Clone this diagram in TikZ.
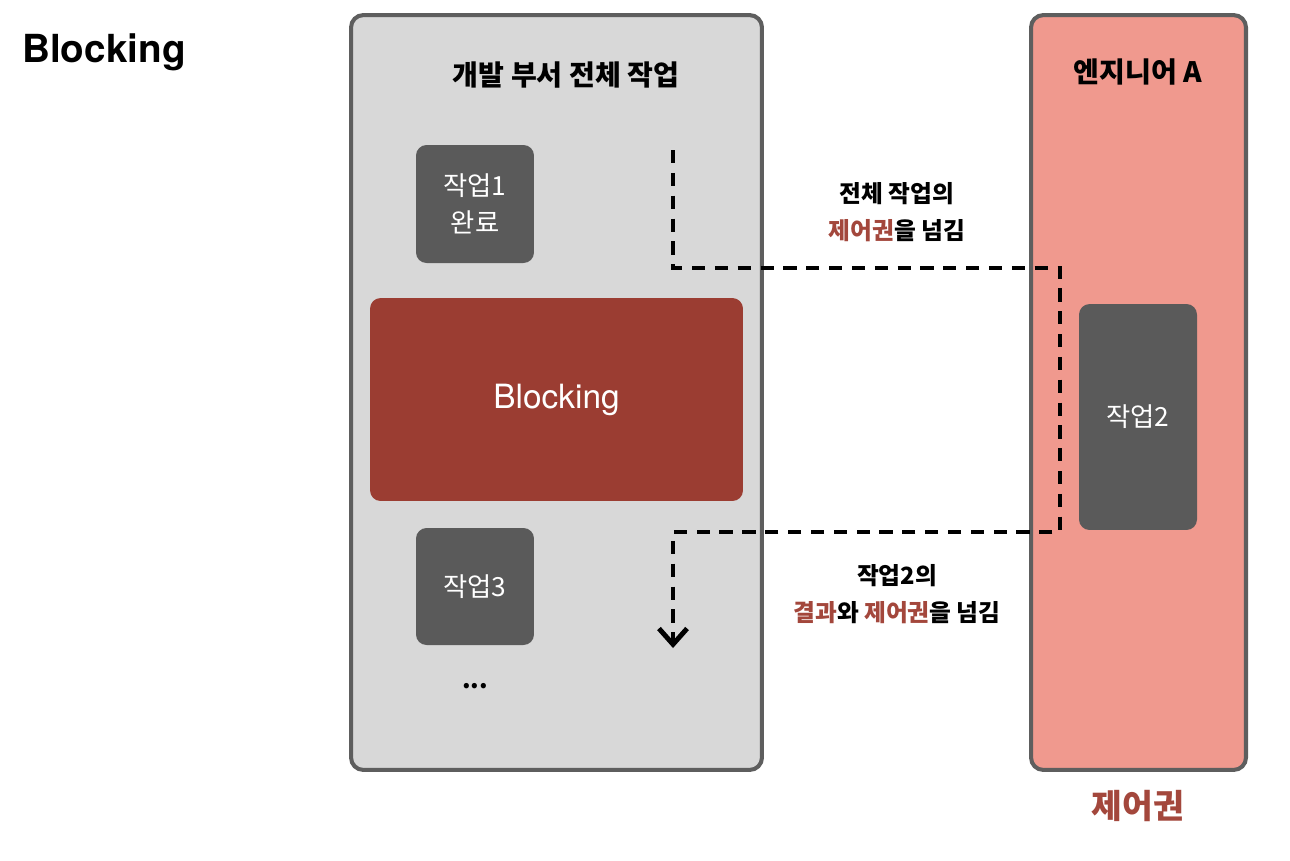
\documentclass[tikz,border=0pt]{standalone}
\usepackage{fontspec}
\setmainfont{Noto Sans CJK KR}
\newfontfamily\heros{TeX Gyre Heros}
\usepackage{xcolor}
\usetikzlibrary{positioning,arrows.meta}
\definecolor{cPanel} {HTML}{D8D8D8}
\definecolor{cEdge}  {HTML}{5E5E5E}
\definecolor{cSalmon}{HTML}{F0998E}
\definecolor{cTask}  {HTML}{5A5A5A}
\definecolor{cBlock} {HTML}{9B3D32}
\definecolor{cRed}   {HTML}{A3473C}
\tikzset{
  panel/.style={draw=cEdge,line width=2.3pt,rounded corners=7pt,inner sep=0pt},
  task/.style={fill=cTask,rounded corners=6pt,text=white,align=center,inner sep=0pt,
    font=\fontsize{15pt}{21pt}\selectfont},
  note/.style={align=center,font=\bfseries\fontsize{13.5pt}{21pt}\selectfont},
  flow/.style={line width=2.8pt,dash pattern=on 7.5pt off 5.5pt}
}

\begin{document}
\begin{tikzpicture}[x=0.02cm,y=-0.02cm]
        \useasboundingbox (0,0) rectangle (1290,860);
        \node[font=\heros\bfseries\fontsize{22pt}{26pt}\selectfont] (title) at (104,52) {Blocking};
        % department panel
        \node[panel,fill=cPanel,minimum width=8.22cm,minimum height=15.1cm] (dept) at (556.5,392.5) {};
        \node[font=\bfseries\fontsize{16pt}{19pt}\selectfont] (depthead) at (566,75) {개발 부서 전체 작업};
        \node[task,minimum width=2.36cm,minimum height=2.36cm] (job1) at (475,204) {작업1\\완료};
        \node[fill=cBlock,rounded corners=6pt,text=white,minimum width=7.46cm,minimum height=4.06cm,
              font=\heros\fontsize{19pt}{22pt}\selectfont] (block) at (556.5,399.5) {Blocking};
        \node[task,minimum width=2.36cm,minimum height=2.34cm] (job3) at (475,586.5) {작업3};
        \node[font=\bfseries\fontsize{14pt}{16pt}\selectfont] (more) at (475,686) {...};
        % engineer panel
        \node[panel,fill=cSalmon,minimum width=4.3cm,minimum height=15.1cm] (eng) at (1138.5,392.5) {};
        \node[font=\bfseries\fontsize{16pt}{19pt}\selectfont] (enghead) at (1138,72) {엔지니어 A};
        \node[task,minimum width=2.36cm,minimum height=4.52cm] (job2) at (1138,417) {작업2};
        \node[font=\bfseries\fontsize{19pt}{22pt}\selectfont,text=cRed] (ctrl) at (1138,806) {제어권};
        % control hand-over
        \coordinate (start) at (673,150);
        \coordinate (hand) at (1060,268);
        \coordinate (back) at (673,532);
        \coordinate (stop) at (673,648);
        \draw[flow,-{Straight Barb[length=9pt,width=16pt]}] (start) |- (hand) |- (back) -- (stop);
        \node[note] (give) at (897,212) {전체 작업의\\{\color{cRed}제어권}을 넘김};
        \node[note] (ret) at (897,594) {작업2의\\{\color{cRed}결과}와 {\color{cRed}제어권}을 넘김};
      \end{tikzpicture}
\end{document}
